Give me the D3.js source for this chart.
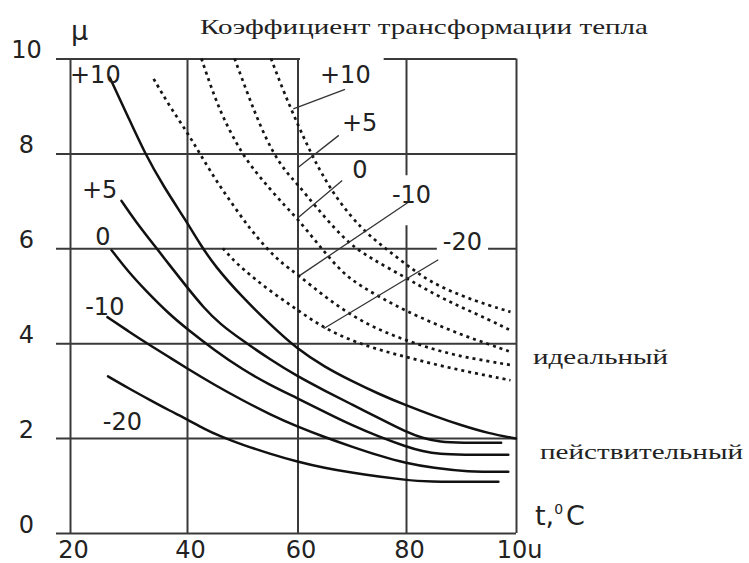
<!DOCTYPE html>
<html>
<head>
<meta charset="utf-8">
<script src="https://cdnjs.cloudflare.com/ajax/libs/d3/7.8.5/d3.min.js"></script>
<style>
body {
    margin: 0;
    background: #fff;
}
#canvas {
    background-color: white;
    display: block;
}
</style>
</head>
<body>
<svg id="canvas" width="749" height="563"></svg>

<script>
// ticks
var xTicks = [20, 40, 60, 80, 100];
var xTickLabels = ["20", "40", "60", "80", "10u"];
var yTicks = [0, 2, 4, 6, 8, 10];
var yTickLabels = ["0", "2", "4", "6", "8", "10"];

// evaporator temperature for each curve
var seriesNames = ["+10", "+5", "0", "-10", "-20"];

// real cycle (solid), [t, mu]
var realP10 = [[26.8,9.6],[30,8.75],[32.8,8.0],[36,7.3],[40,6.55],[42.3,6.1],[45,5.63],[50,4.97],[55,4.4],[60,3.87],[65,3.5],[70,3.2],[75,2.93],[80,2.69],[85,2.47],[90,2.27],[95,2.1],[100,1.99]];
var realP5 = [[28.8,7.0],[31,6.6],[34.8,6.0],[37,5.65],[40,5.18],[43,4.75],[46,4.4],[50,4.06],[55,3.66],[60,3.3],[65,3.0],[70,2.71],[75,2.42],[80,2.13],[83,2.0],[86.2,1.92],[90,1.9],[97.3,1.9]];
var real0 = [[27.1,5.96],[30,5.5],[33,5.1],[36.9,4.62],[40,4.3],[45,3.85],[50,3.45],[55,3.12],[60,2.84],[65,2.55],[70,2.27],[75,2.03],[80,1.82],[83,1.72],[86.2,1.66],[90,1.65],[98.6,1.65]];
var realM10 = [[26.4,4.55],[30,4.25],[33.5,3.97],[36.9,3.71],[40,3.47],[45,3.12],[50,2.8],[55,2.5],[60,2.24],[65,2.02],[70,1.82],[75,1.63],[80,1.47],[85,1.37],[91,1.29],[98.6,1.29]];
var realM20 = [[26.5,3.3],[30,3.05],[33.7,2.8],[37,2.58],[40,2.4],[43,2.2],[46,2.04],[50,1.86],[55,1.67],[60,1.5],[65,1.37],[70,1.27],[75,1.19],[80,1.12],[83,1.08],[96.8,1.08]];

// ideal cycle (dotted), [t, mu]
var idealP10 = [[55.2,10],[57.5,9.3],[60,8.62],[62.3,8.05],[64.4,7.58],[67.5,7.0],[71.8,6.41],[75.5,6.06],[80,5.66],[84.2,5.3],[90,5.0],[95,4.8],[99,4.66]];
var idealP5 = [[48.6,10],[51,9.25],[53,8.65],[55.6,8.0],[58,7.6],[60,7.35],[63.2,6.9],[66.9,6.41],[70,6.06],[73.6,5.78],[80,5.38],[85,5.04],[90,4.76],[95,4.5],[99,4.27]];
var ideal0 = [[42.6,10],[44.5,9.35],[46.5,8.75],[49.9,8.0],[52.5,7.6],[55,7.25],[57.7,6.9],[60,6.62],[63,6.2],[65.5,5.85],[68.6,5.45],[72,5.18],[76,4.92],[80,4.68],[85,4.42],[90,4.18],[95,3.98],[99,3.82]];
var idealM10 = [[34.3,9.57],[37,9.0],[40,8.45],[42.3,8.0],[45.4,7.4],[48.4,6.9],[51.4,6.41],[54.4,6.0],[57,5.7],[60,5.45],[65,4.98],[70,4.58],[75,4.28],[80,4.06],[85,3.87],[90,3.72],[95,3.62],[99,3.54]];
var idealM20 = [[46.5,6.0],[48,5.8],[50,5.57],[55,5.1],[60,4.7],[64.7,4.33],[70,4.05],[75,3.86],[80,3.71],[85,3.56],[90,3.43],[95,3.31],[99,3.22]];

var realCurves = [realP10, realP5, real0, realM10, realM20];
var idealCurves = [idealP10, idealP5, ideal0, idealM10, idealM20];

// label anchors and leader lines, in chart units
var realLabelPos = [[20, 9.49], [22.05, 7.07], [24.3, 6.06], [22.6, 4.59], [25.6, 2.17]];
var idealLabelPos = [[64.15, 9.49], [68.2, 8.47], [70.1, 7.49], [77.4, 6.95], [86.7, 5.96]];
var idealLeaders = [
    [[68.76, 9.35], [59.24, 8.94]],
    [[67.61, 8.38], [60.15, 7.71]],
    [[68.24, 7.43], [60.04, 6.64]],
    [[80.42, 6.97], [60.46, 5.43]],
    [[85.87, 5.76], [64.85, 4.31]]
];
// white masks behind the labels of the ideal curves: [left, top, right, bottom] padding
var maskPad = [[20, 6, 13, 6], null, null, [7, 6, 7, 16], [6, 4, 6, 4]];

var svg = d3.select("#canvas");
var sans = "DejaVu Sans";
var serif = "Liberation Serif";
var gridColor = "#3a3a3a";
var inkColor = "#222";

var x = d3.scaleLinear().domain(xTicks).range([70, 187, 297.5, 406, 516]);
var y = d3.scaleLinear().domain([0, 10]).range([533, 58.5]);

// horizontal grid + y labels
var gy = svg.append("g")
    .attr("transform", "translate(" + x(100) + ",0)")
    .call(d3.axisLeft(y).tickValues(yTicks)
        .tickSize(x(100) - x(20) + 14)
        .tickFormat(function(d, i) { return yTickLabels[i]; }))
    .attr("font-family", sans)
    .attr("font-size", 24);
gy.select(".domain").remove();
gy.selectAll(".tick line").attr("stroke", gridColor).attr("stroke-width", 2);
gy.selectAll(".tick text")
    .attr("x", 26.5 - x(100))
    .attr("dy", -1)
    .attr("text-anchor", "middle")
    .attr("fill", inkColor);

// vertical grid + x labels
var gx = svg.append("g")
    .attr("transform", "translate(0," + y(0) + ")")
    .call(d3.axisBottom(x).tickValues(xTicks)
        .tickSize(-(y(0) - y(10)))
        .tickFormat(function(d, i) { return xTickLabels[i]; }))
    .attr("font-family", sans)
    .attr("font-size", 24);
gx.select(".domain").remove();
gx.selectAll(".tick line").attr("stroke", gridColor).attr("stroke-width", 2);
gx.selectAll(".tick text")
    .attr("y", 25)
    .attr("dy", 0)
    .attr("dx", 3)
    .attr("fill", inkColor);

var maskLayer = svg.append("g");

// smooth hand-read points a little
var line = d3.line()
    .x(function(d) { return x(d[0]); })
    .y(function(d) { return y(d[1]); })
    .curve(d3.curveBasis);

svg.append("g").selectAll("path.real")
    .data(realCurves)
    .enter().append("path")
    .attr("class", "real")
    .attr("d", line)
    .attr("fill", "none")
    .attr("stroke", "#111")
    .attr("stroke-width", 2.5)
    .attr("stroke-linejoin", "round")
    .attr("stroke-linecap", "round");

svg.append("g").selectAll("path.ideal")
    .data(idealCurves)
    .enter().append("path")
    .attr("class", "ideal")
    .attr("d", line)
    .attr("fill", "none")
    .attr("stroke", "#151515")
    .attr("stroke-width", 2.7)
    .attr("stroke-dasharray", "3,4");

svg.append("g").selectAll("line")
    .data(idealLeaders)
    .enter().append("line")
    .attr("x1", function(d) { return x(d[0][0]); })
    .attr("y1", function(d) { return y(d[0][1]); })
    .attr("x2", function(d) { return x(d[1][0]); })
    .attr("y2", function(d) { return y(d[1][1]); })
    .attr("stroke", "#333")
    .attr("stroke-width", 1.3);

var labels = svg.append("g")
    .attr("font-family", sans)
    .attr("font-size", 24)
    .attr("fill", inkColor);

labels.selectAll("text.real")
    .data(seriesNames)
    .enter().append("text")
    .attr("class", "real")
    .attr("x", function(d, i) { return x(realLabelPos[i][0]); })
    .attr("y", function(d, i) { return y(realLabelPos[i][1]); })
    .text(function(d) { return d; });

var idealText = labels.selectAll("text.ideal")
    .data(seriesNames)
    .enter().append("text")
    .attr("class", "ideal")
    .attr("x", function(d, i) { return x(idealLabelPos[i][0]); })
    .attr("y", function(d, i) { return y(idealLabelPos[i][1]); })
    .text(function(d) { return d; });

// white boxes that break the grid behind some labels
idealText.each(function(d, i) {
    var p = maskPad[i];
    if (!p) return;
    var b = this.getBBox();
    maskLayer.append("rect")
        .attr("x", b.x - p[0])
        .attr("y", b.y - p[1])
        .attr("width", b.width + p[0] + p[2])
        .attr("height", b.height + p[1] + p[3])
        .attr("fill", "#fff");
});

// titles and axis names
svg.append("text")
    .attr("x", 200).attr("y", 34)
    .attr("font-family", serif).attr("font-size", 21)
    .attr("textLength", 448).attr("lengthAdjust", "spacingAndGlyphs")
    .attr("fill", inkColor)
    .text("Коэффициент трансформации тепла");

svg.append("text")
    .attr("x", 533).attr("y", 364)
    .attr("font-family", serif).attr("font-size", 22)
    .attr("textLength", 135).attr("lengthAdjust", "spacingAndGlyphs")
    .attr("fill", inkColor)
    .text("идеальный");

svg.append("text")
    .attr("x", 540).attr("y", 459)
    .attr("font-family", serif).attr("font-size", 22)
    .attr("textLength", 203).attr("lengthAdjust", "spacingAndGlyphs")
    .attr("fill", inkColor)
    .text("пействительный");

svg.append("text")
    .attr("x", 71).attr("y", 40)
    .attr("font-family", sans).attr("font-size", 27)
    .attr("fill", inkColor)
    .text("μ");

var tLabel = svg.append("text")
    .attr("x", 535).attr("y", 525)
    .attr("font-family", sans).attr("font-size", 27)
    .attr("fill", inkColor);
tLabel.append("tspan").text("t,");
tLabel.append("tspan").attr("font-size", 14).attr("dy", -11).attr("dx", 0).text("0");
tLabel.append("tspan").attr("dy", 11).attr("dx", 3).text("C");
</script>
</body>
</html>
